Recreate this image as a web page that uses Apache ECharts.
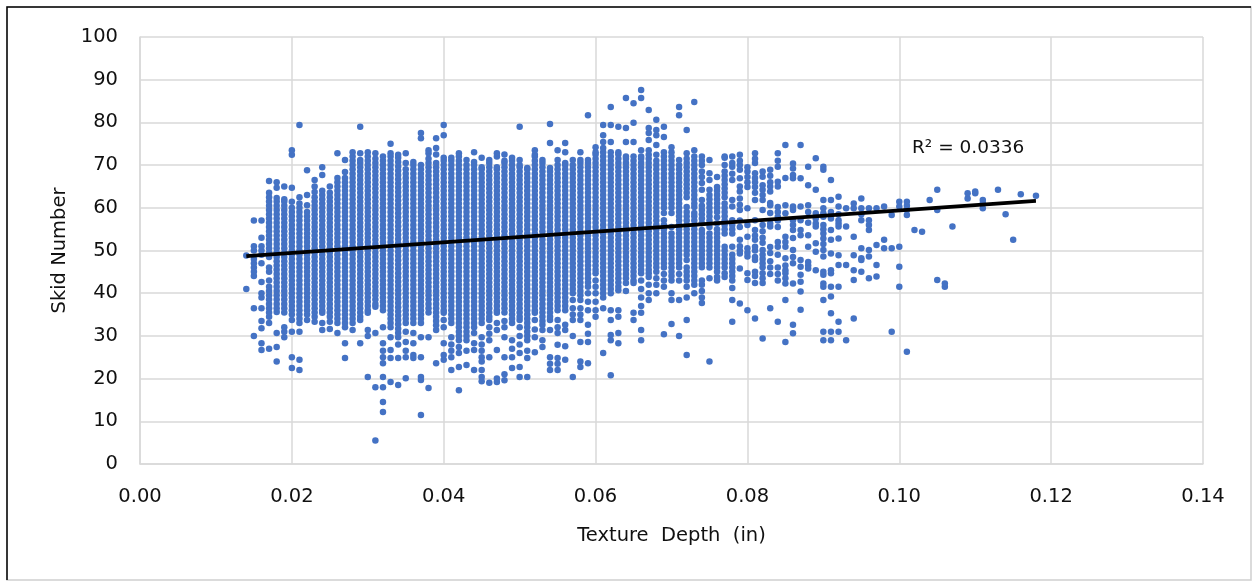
<!DOCTYPE html>
<html>
<head>
<meta charset="utf-8">
<script src="https://cdn.jsdelivr.net/npm/echarts@6/dist/echarts.min.js"></script>
<style>
  html, body { margin: 0; padding: 0; background: #fff; }
  #main { width: 1253px; height: 581px; }
</style>
</head>
<body>
<div id="main"></div>
<script>
// texture depth (in) | skid numbers
var skidByDepth = [
  "0.014 | 41 48.8",
  "0.015 | 30 36.5 44 45 46 47 48 50 51 57",
  "0.016 | 26.7 28.3 31.8 33.5 36.5 39 40 42.6 47 49 50 51 53 57",
  "0.017 | 27 33 34.5 35.5 36.5 37.5 38.5 39.5 40.5 41.5 43 45 46 48.5 49.5 50.5 51.5 52.5 53.5 54.5 55.5 56.5 57.5 58.5 59.5 60.5 61.5 62.5 63.5 66.3",
  "0.018 | 24 27.4 30.7 35.6 36.5 37.5 38.5 39.5 40.5 41.5 42.5 43.5 44.5 45.5 46.5 47.5 48.5 49.5 50.5 51.5 52.5 53.5 54.5 55.5 56.5 57.5 58.5 59.5 60.5 61.5 62.3 64.7 66",
  "0.019 | 29.7 31 32 35.5 36.5 37.5 38.5 39.5 40.5 41.5 42.5 43.5 44.5 45.5 46.5 47.5 48.5 49.5 50.5 51.5 52.5 53.5 54.5 55.5 56.5 57.5 58.5 59.5 60.5 61.5 62 65",
  "0.020 | 22.5 25 31 33.7 35 36 37 38 39 40 41 42 43 44 45 46 47 48 49 50 51 52 53 54 55 56 57 58 59 60 61.4 64.7 72.4 73.5",
  "0.021 | 22 24.4 31 33 34 35 36 37 38 39 40 41 42 43 44 45 46 47 48 49 50 51 52 53 54 55 56 57 58 59 60 61 62.5 79.4",
  "0.022 | 33.7 35 36 37 38 39 40 41 42 43 44 45 46 47 48 49 50 51 52 53 54 55 56 57 58 59 60.6 63 68.8",
  "0.023 | 33.3 34.5 35.5 36.5 37.5 38.5 39.5 40.5 41.5 42.5 43.5 44.5 45.5 46.5 47.5 48.5 49.5 50.5 51.5 52.5 53.5 54.5 55.5 56.5 57.5 58.5 59.5 60.5 61.5 62.5 63.7 65 66.5",
  "0.024 | 31.4 33 35.4 36 37 38 39 40 41 42 43 44 45 46 47 48 49 50 51 52 53 54 55 56 57 58 59 60 61 62 63 64 67.7 69.5",
  "0.025 | 31.6 33.3 34.5 35.5 36.5 37.5 38.5 39.5 40.5 41.5 42.5 43.5 44.5 45.5 46.5 47.5 48.5 49.5 50.5 51.5 52.5 53.5 54.5 55.5 56.5 57.5 58.5 59.5 60.5 61.5 62.5 63.5 65",
  "0.026 | 30.7 33 34 35 36 37 38 39 40 41 42 43 44 45 46 47 48 49 50 51 52 53 54 55 56 57 58 59 60 61 62 63 64 65 66 67 72.8",
  "0.027 | 24.8 28.3 32 33 34 35 36 37 38 39 40 41 42 43 44 45 46 47 48 49 50 51 52 53 54 55 56 57 58 59 60 61 62 63 64 65 66 67 68.4 71.2",
  "0.028 | 31.4 33 34 35 36 37 38 39 40 41 42 43 44 45 46 47 48 49 50 51 52 53 54 55 56 57 58 59 60 61 62 63 64 65 66 67 68 69 70 71 72 73",
  "0.029 | 28.3 33.7 34.5 35.5 36.5 37.5 38.5 39.5 40.5 41.5 42.5 43.5 44.5 45.5 46.5 47.5 48.5 49.5 50.5 51.5 52.5 53.5 54.5 55.5 56.5 57.5 58.5 59.5 60.5 61.5 62.5 63.5 64.5 65.5 66.5 67.5 68.5 69.5 70.5 71.2 72.8 79",
  "0.030 | 20.4 30 31.4 35.4 36 37 38 39 40 41 42 43 44 45 46 47 48 49 50 51 52 53 54 55 56 57 58 59 60 61 62 63 64 65 66 67 68 69 70 71 72 73",
  "0.031 | 5.5 18 30.7 36.8 37.5 38.5 39.5 40.5 41.5 42.5 43.5 44.5 45.5 46.5 47.5 48.5 49.5 50.5 51.5 52.5 53.5 54.5 55.5 56.5 57.5 58.5 59.5 60.5 61.5 62.5 63.5 64.5 65.5 66.5 67.5 68.5 69.5 70.5 71.5 72.8",
  "0.032 | 12.2 14.5 18 20.4 23.6 25 26.5 28.3 32 36 37 38 39 40 41 42 43 44 45 46 47 48 49 50 51 52 53 54 55 56 57 58 59 60 61 62 63 64 65 66 67 68 69 70 71 72",
  "0.033 | 19.2 24.8 26.7 29.7 32 33 34 35 36 37 38 39 40 41 42 43 44 45 46 47 48 49 50 51 52 53 54 55 56 57 58 59 60 61 62 63 64 65 66 67 68 69 70 71 72 72.8 75",
  "0.034 | 18.5 24.8 28 29.7 30.7 31.7 32.7 33.7 34.7 35.7 36.7 37.7 38.7 39.7 40.7 41.7 42.7 43.7 44.7 45.7 46.7 47.7 48.7 49.7 50.7 51.7 52.7 53.7 54.7 55.7 56.7 57.7 58.7 59.7 60.7 61.7 62.7 63.7 64.7 65.7 66.7 67.7 68.7 69.7 70.7 71.7 72.4",
  "0.035 | 20.1 25 26.5 28.6 31 33 34 35 36 37 38 39 40 41 42 43 44 45 46 47 48 49 50 51 52 53 54 55 56 57 58 59 60 61 62 63 64 65 66 67 68 69 70.5 72.8",
  "0.036 | 24.8 25.5 28.3 30.7 33 34 35 36 37 38 39 40 41 42 43 44 45 46 47 48 49 50 51 52 53 54 55 56 57 58 59 60 61 62 63 64 65 66 67 68 69 70 70.7",
  "0.037 | 11.5 19.7 20.4 25 29.7 33 34 35 36 37 38 39 40 41 42 43 44 45 46 47 48 49 50 51 52 53 54 55 56 57 58 59 60 61 62 63 64 65 66 67 68 69 70 76.3 77.5",
  "0.038 | 17.8 29.7 35.5 36.5 37.5 38.5 39.5 40.5 41.5 42.5 43.5 44.5 45.5 46.5 47.5 48.5 49.5 50.5 51.5 52.5 53.5 54.5 55.5 56.5 57.5 58.5 59.5 60.5 61.5 62.5 63.5 64.5 65.5 66.5 67.5 68.5 69.5 70.5 71.5 72.8 73.5",
  "0.039 | 23.6 31.4 32.5 33.5 34.5 35.5 36.5 37.5 38.5 39.5 40.5 41.5 42.5 43.5 44.5 45.5 46.5 47.5 48.5 49.5 50.5 51.5 52.5 53.5 54.5 55.5 56.5 57.5 58.5 59.5 60.5 61.5 62.5 63.5 64.5 65.5 66.5 67.5 68.5 69.5 70.5 72.5 74 76.3",
  "0.040 | 24.4 25.5 28.3 32 33.7 35.4 36 37 38 39 40 41 42 43 44 45 46 47 48 49 50 51 52 53 54 55 56 57 58 59 60 61 62 63 64 65 66 67 68 69 70 71 71.7 77 79.4",
  "0.041 | 22 25 26.5 28 29.7 33 34 35 36 37 38 39 40 41 42 43 44 45 46 47 48 49 50 51 52 53 54 55 56 57 58 59 60 61 62 63 64 65 66 67 68 69 70 71 71.7",
  "0.042 | 17.3 22.7 26 27.4 29 30 31 32 33 34 35 36 37 38 39 40 41 42 43 44 45 46 47 48 49 50 51 52 53 54 55 56 57 58 59 60 61 62 63 64 65 66 67 68 69 70 71 72 72.8",
  "0.043 | 23.2 26.5 29 30 31 32 33 34 35 36 37 38 39 40 41 42 43 44 45 46 47 48 49 50 51 52 53 54 55 56 57 58 59 60 61 62 63 64 65 66 67 68 69 70 71.2",
  "0.044 | 22 26.7 28.3 30.7 32 33 34 35 36 37 38 39 40 41 42 43 44 45 46 47 48 49 50 51 52 53 54 55 56 57 58 59 60 61 62 63 64 65 66 67 68 69 70 70.7 73",
  "0.045 | 19.4 20.4 22 24 25 26.5 28 29.7 33 34 35 36 37 38 39 40 41 42 43 44 45 46 47 48 49 50 51 52 53 54 55 56 57 58 59 60 61 62 63 64 65 66 67 68 69 69.5 71.7",
  "0.046 | 19 25 29 30.5 32 33.7 34.5 35.5 36.5 37.5 38.5 39.5 40.5 41.5 42.5 43.5 44.5 45.5 46.5 47.5 48.5 49.5 50.5 51.5 52.5 53.5 54.5 55.5 56.5 57.5 58.5 59.5 60.5 61.5 62.5 63.5 64.5 65.5 66.5 67.5 68.5 69.5 70.5 71.2",
  "0.047 | 19.2 20 26.7 31.4 33 35.4 36 37 38 39 40 41 42 43 44 45 46 47 48 49 50 51 52 53 54 55 56 57 58 59 60 61 62 63 64 65 66 67 68 69 69.5 72 72.8",
  "0.048 | 19.6 21 25 29.7 32 33.5 35.5 36.5 37.5 38.5 39.5 40.5 41.5 42.5 43.5 44.5 45.5 46.5 47.5 48.5 49.5 50.5 51.5 52.5 53.5 54.5 55.5 56.5 57.5 58.5 59.5 60.5 61.5 62.5 63.5 64.5 65.5 66.5 67.5 68.5 69.5 70.5 71 72.5",
  "0.049 | 22.5 25 27 29 33 34 35 36 37 38 39 40 41 42 43 44 45 46 47 48 49 50 51 52 53 54 55 56 57 58 59 60 61 62 63 64 65 66 67 68 69 70 71 71.7",
  "0.050 | 20.4 22.7 26 28 30 32 33.7 34.5 35.5 36.5 37.5 38.5 39.5 40.5 41.5 42.5 43.5 44.5 45.5 46.5 47.5 48.5 49.5 50.5 51.5 52.5 53.5 54.5 55.5 56.5 57.5 58.5 59.5 60.5 61.5 62.5 63.5 64.5 65.5 66.5 67.5 68.5 69.5 70 71.2 79",
  "0.051 | 20.4 24.8 26.5 29 30 31 32 33 34 35 36 37 38 39 40 41 42 43 44 45 46 47 48 49 50 51 52 53 54 55 56 57 58 59 60 61 62 63 64 65 66 67 68 69 69.3",
  "0.052 | 26.2 29.7 31.5 33.7 35.4 36 37 38 39 40 41 42 43 44 45 46 47 48 49 50 51 52 53 54 55 56 57 58 59 60 61 62 63 64 65 66 67 68 69 70 71 72 72.4 73.5",
  "0.053 | 27.4 29 31.4 32.6 33.5 34.5 35.5 36.5 37.5 38.5 39.5 40.5 41.5 42.5 43.5 44.5 45.5 46.5 47.5 48.5 49.5 50.5 51.5 52.5 53.5 54.5 55.5 56.5 57.5 58.5 59.5 60.5 61.5 62.5 63.5 64.5 65.5 66.5 67.5 68.5 69.5 70.5 71.2",
  "0.054 | 22 23.5 25 31.4 33.7 34.5 35.5 36.5 37.5 38.5 39.5 40.5 41.5 42.5 43.5 44.5 45.5 46.5 47.5 48.5 49.5 50.5 51.5 52.5 53.5 54.5 55.5 56.5 57.5 58.5 59.5 60.5 61.5 62.5 63.5 64.5 65.5 66.5 67.5 68.5 69.3 75.2 79.6",
  "0.055 | 22 23.5 24.8 27.9 30.7 32 33.7 36 37 38 39 40 41 42 43 44 45 46 47 48 49 50 51 52 53 54 55 56 57 58 59 60 61 62 63 64 65 66 67 68 69 70 71.2 73.5",
  "0.056 | 24.4 27.6 31.4 32.6 36 37 38 39 40 41 42 43 44 45 46 47 48 49 50 51 52 53 54 55 56 57 58 59 60 61 62 63 64 65 66 67 68 69 70 70.5 73 75.2",
  "0.057 | 20.4 30 33.7 35 36.5 38.4 40 41 42 43 44 45 46 47 48 49 50 51 52 53 54 55 56 57 58 59 60 61 62 63 64 65 66 67 68 69 70 71.2",
  "0.058 | 22.7 24 28.6 33.7 35 36.5 38.4 39.5 40.5 41.5 42.5 43.5 44.5 45.5 46.5 47.5 48.5 49.5 50.5 51.5 52.5 53.5 54.5 55.5 56.5 57.5 58.5 59.5 60.5 61.5 62.5 63.5 64.5 65.5 66.5 67.5 68.5 69.5 70.5 71.2 73",
  "0.059 | 23.6 28.6 30.5 32.6 36 38 40 41.5 42.5 43.5 44.5 45.5 46.5 47.5 48.5 49.5 50.5 51.5 52.5 53.5 54.5 55.5 56.5 57.5 58.5 59.5 60.5 61.5 62.5 63.5 64.5 65.5 66.5 67.5 68.5 69.5 70.5 71.2 81.7",
  "0.060 | 34.5 36 38 40 41.5 43 44.7 45.5 46.5 47.5 48.5 49.5 50.5 51.5 52.5 53.5 54.5 55.5 56.5 57.5 58.5 59.5 60.5 61.5 62.5 63.5 64.5 65.5 66.5 67.5 68.5 69.5 70.5 71.5 72.5 73 74.2",
  "0.061 | 26 36.5 39 40 41 42 43 44 45 46 47 48 49 50 51 52 53 54 55 56 57 58 59 60 61 62 63 64 65 66 67 68 69 70 71 72 73 74 75.4 77 79.4",
  "0.062 | 20.8 29 30.2 33.7 36 40 41 42 43 44 45 46 47 48 49 50 51 52 53 54 55 56 57 58 59 60 61 62 63 64 65 66 67 68 69 70 71 72 73 75.4 79.4 83.6",
  "0.063 | 28.3 30.7 34.5 36 40.7 41.5 42.5 43.5 44.5 45.5 46.5 47.5 48.5 49.5 50.5 51.5 52.5 53.5 54.5 55.5 56.5 57.5 58.5 59.5 60.5 61.5 62.5 63.5 64.5 65.5 66.5 67.5 68.5 69.5 70.5 71.5 72.5 73 79",
  "0.064 | 40.5 42.4 43.5 44.5 45.5 46.5 47.5 48.5 49.5 50.5 51.5 52.5 53.5 54.5 55.5 56.5 57.5 58.5 59.5 60.5 61.5 62.5 63.5 64.5 65.5 66.5 67.5 68.5 69.5 70.5 71.5 72 75.4 78.7 85.7",
  "0.065 | 33.7 35.4 42.4 43 44 45 46 47 48 49 50 51 52 53 54 55 56 57 58 59 60 61 62 63 64 65 66 67 68 69 70 71 72 75.4 79.9 84.5",
  "0.066 | 29 31.4 35.4 37 39 41 43 44.7 45.5 46.5 47.5 48.5 49.5 50.5 51.5 52.5 53.5 54.5 55.5 56.5 57.5 58.5 59.5 60.5 61.5 62.5 63.5 64.5 65.5 66.5 67.5 68.5 69.5 70.5 71.5 72 73.5 85.7 87.6",
  "0.067 | 38.4 40 42 43.8 44.7 45.5 46.5 47.5 48.5 49.5 50.5 51.5 52.5 53.5 54.5 55.5 56.5 57.5 58.5 59.5 60.5 61.5 62.5 63.5 64.5 65.5 66.5 67.5 68.5 69.5 70.5 71.5 72.4 73.5 75.9 77.5 78.7 82.9",
  "0.068 | 40 42 43.5 45 46.1 47 48 49 50 51 52 53 54 55 56 57 58 59 60 61 62 63 64 65 66 67 68 69 70 71 72.4 74.7 77 78.2 80.6",
  "0.069 | 30.4 41.5 43 44.5 46 47 48 49 50 51 52 53 54 55 56 57.1 58.8 60 61 62 63 64 65 66 67 68 69 70 71 72 73 76.6 79",
  "0.070 | 32.8 38.4 40 43 44 45 46 47 48 49 50 51 52 53 54 55.5 58.8 60 61 62 63 64 65 66 67 68 69 70 71 72 73 74.2",
  "0.071 | 30 38.4 43 44.5 46 47 48 49 50 51 52 53 54 55 56 57 58 59 60 61 62 63 64 65 66 67 68 69 70 71.2 81.7 83.6",
  "0.072 | 25.5 33.7 39 41.5 43 44 45 46 47.8 49 50 51 52 53 54 55 56 57 58 59 60.2 62.5 63.5 64.5 65.5 66.5 67.5 68.5 69.5 70.5 71.5 72.8 78.2",
  "0.073 | 40 42 43 44 45 46 47 48 49 50 51 52 53 54 55 56 57 58 58.8 60.2 61 62 63 64 65 66 67 68 69 70 71 72 73.5 84.8",
  "0.074 | 37.7 39 40.5 42 43 46.1 47 48 49 50 51 52 53 54 54.8 56.4 57.5 58.5 59.5 60.5 61.8 64.2 65.8 67.2 68.5 70 71 72",
  "0.075 | 24 43.5 46 47 48 49 50 51 52 53 54 55.5 57 58 59 60 61 62 63 64.2 66.5 68.1 71.2",
  "0.076 | 43 43.8 45 46 47 48 49 50 51 52 53 54 55 56.4 57.8 59 60 61 62 63 64 64.9 67.2",
  "0.077 | 43.8 44.7 46 47 48 49 50 50.9 54 55 56 57 58 59 60 61 62.5 63.5 64.5 65.5 66.5 67.5 68.5 70 71.7 72",
  "0.078 | 33.3 38.4 41.2 43 44 45 46 47 48 49 50.9 54 55 56 57.1 60.3 61.8 66.5 68 69.6 70.5 72",
  "0.079 | 37.6 45.8 49.3 50 51 52.5 55.5 57 59.5 60.7 62.2 63.8 65 66.9 68.9 70 71 72.4",
  "0.080 | 36 43.1 44.7 48.6 49.5 50.5 53.2 56 59.9 64.9 66 67.2 68.5 69.5",
  "0.081 | 34.1 42.4 44 45 47.8 48.5 50 50.9 52.5 53.5 54.8 57.1 61.8 63.5 64.9 66 67 68.1 70.5 71.5 72.8",
  "0.082 | 29.4 42.4 43.5 44.7 46.1 47 48 49 50.1 51.8 53 54.5 56 59.5 61.8 63 64.2 65.3 67.3 68.5",
  "0.083 | 36.5 44.5 46 47.5 49.4 50.8 55.6 56.3 58.8 60.6 61.1 63.8 65 66 67.5 68.9",
  "0.084 | 33.3 43 44.5 46 49 50.9 52 55.5 57 57.9 59 60.2 65 66.1 69.6 71 72.8",
  "0.085 | 28.6 38.4 42.3 43.5 44.7 45.4 46.5 48.2 50.9 52 53.2 58.7 60.6 67 74.7",
  "0.086 | 30.6 32.6 42.3 47 48.5 50.1 52.9 54.8 56 57.1 59.5 60.3 66.9 67.7 69.2 70.4",
  "0.087 | 36.1 40.4 42.7 44.3 46.2 47.8 53.6 54.8 57.1 60.3 66.9 74.7",
  "0.088 | 45.8 46.5 47.3 50.9 53.6 56.5 59 60.6 65.3 69.6",
  "0.089 | 45.4 49.7 51.7 55.6 56.3 57.5 58.7 64.2 71.6",
  "0.090 | 29 31 38.4 41.5 42.3 44.3 45 48.6 50.1 51.5 52.8 54 55 56 57.9 58.7 59.9 61.8 68.9 69.6",
  "0.091 | 29 31 35.3 39.2 41.5 44.7 45.4 49.3 52.5 54.8 57.5 59 61.8 66.5",
  "0.092 | 31 33.3 41.5 46.6 48.9 52.8 55.6 56.3 57.1 58.5 60.3 62.6",
  "0.093 | 29 46.6 55.6 59.9",
  "0.094 | 34.1 43.1 45.4 48.9 53.2 59.9 61",
  "0.095 | 45 47.8 48.2 50.5 57.1 58.5 59.9 62.2",
  "0.096 | 43.5 48.6 50.1 54.8 56 57.1 59.9",
  "0.097 | 43.9 46.6 51.3 59.9",
  "0.098 | 50.5 52.5 60.3",
  "0.099 | 31 50.5 58.3",
  "0.100 | 41.5 46.2 50.9 60.3 61.4",
  "0.101 | 26.3 58.3 59.5 60.5 61.4",
  "0.102 | 54.8",
  "0.103 | 54.4",
  "0.104 | 61.8",
  "0.105 | 43.1 59.5 64.2",
  "0.106 | 41.5 42.3",
  "0.107 | 55.6",
  "0.109 | 62.2 63.4",
  "0.110 | 63.4 63.8",
  "0.111 | 59.9 61 61.8",
  "0.113 | 64.2",
  "0.114 | 58.5",
  "0.115 | 52.5",
  "0.116 | 63.2",
  "0.118 | 62.8"
];

// linear trendline end points as drawn
var trendDepth = [0.014, 0.118];
var trendSkid = [48.7, 61.6];
var rSquared = 0.0336;

var points = [];
for (var i = 0; i < skidByDepth.length; i++) {
    var parts = skidByDepth[i].split("|");
    var depth = parseFloat(parts[0]);
    var ys = parts[1].trim().split(/\s+/);
    for (var j = 0; j < ys.length; j++) {
        points.push([depth, parseFloat(ys[j])]);
    }
}
var trendData = [];
for (var i = 0; i < trendDepth.length; i++) {
    trendData.push([trendDepth[i], trendSkid[i]]);
}

var font = "DejaVu Sans";
var myChart = echarts.init(document.getElementById("main"));
var option = {
    animation: false,
    backgroundColor: "#fff",
    grid: { left: 140, right: 50, top: 37, bottom: 117 },
    xAxis: {
        type: "value",
        min: 0, max: 0.14, interval: 0.02,
        name: "Texture  Depth  (in)",
        nameLocation: "middle",
        nameGap: 62,
        nameTextStyle: { fontFamily: font, fontSize: 19.5, color: "#111" },
        axisLine: { show: true, lineStyle: { color: "#d9d9d9", width: 1.5 } },
        axisTick: { show: false },
        axisLabel: {
            fontFamily: font, fontSize: 19.5, color: "#111", margin: 23,
            formatter: function (v) { return v.toFixed(2); }
        },
        splitLine: { show: true, lineStyle: { color: "#d9d9d9", width: 1.5 } }
    },
    yAxis: {
        type: "value",
        min: 0, max: 100, interval: 10,
        name: "Skid Number",
        nameLocation: "middle",
        nameGap: 68,
        nameTextStyle: { fontFamily: font, fontSize: 19.5, color: "#111" },
        axisLine: { show: true, lineStyle: { color: "#d9d9d9", width: 1.5 } },
        axisTick: { show: false },
        axisLabel: { fontFamily: font, fontSize: 19.5, color: "#111", margin: 22 },
        splitLine: { show: true, lineStyle: { color: "#d9d9d9", width: 1.5 } }
    },
    series: [
        {
            type: "scatter",
            data: points,
            symbol: "circle",
            symbolSize: 6.5,
            itemStyle: { color: "#4472c4", opacity: 1 },
            z: 2
        },
        {
            type: "line",
            data: trendData,
            symbol: "none",
            lineStyle: { color: "#000", width: 3.8 },
            z: 3
        }
    ],
    graphic: [
        { type: "text", left: 912, top: 139,
          style: { text: "R² = " + rSquared, fontFamily: font, fontSize: 18.5, fill: "#111" } },
        { type: "rect", shape: { x: 7, y: 7, width: 1244, height: 573 },
          style: { fill: "none", stroke: "#d0d0d0", lineWidth: 1.5 } },
        { type: "polyline", shape: { points: [[7, 580], [7, 7], [1251, 7]] },
          style: { fill: "none", stroke: "#000", lineWidth: 1.5 } }
    ]
};
myChart.setOption(option);
</script>
</body>
</html>
